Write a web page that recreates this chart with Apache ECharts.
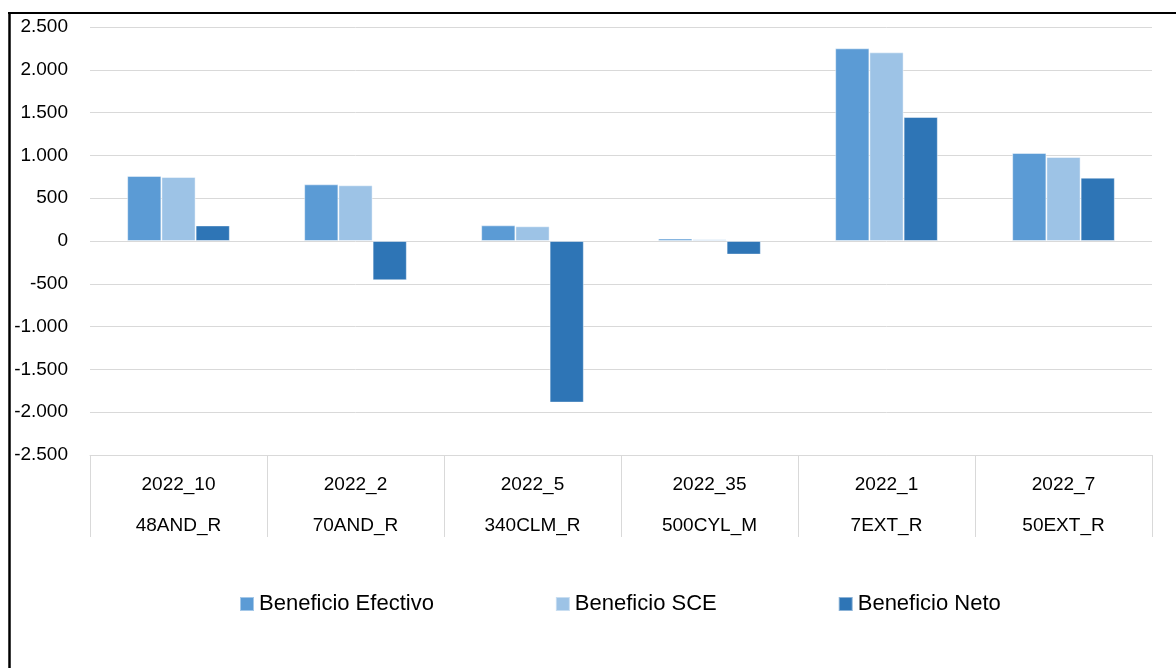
<!DOCTYPE html>
<html>
<head>
<meta charset="utf-8">
<script src="https://cdn.jsdelivr.net/npm/echarts@6/dist/echarts.min.js"></script>
<style>
html,body{margin:0;padding:0;background:#fff;}
#chart{width:1176px;height:668px;}
</style>
</head>
<body>
<div id="chart"></div>
<script>
const periods = ['2022_10','2022_2','2022_5','2022_35','2022_1','2022_7'];
const units = ['48AND_R','70AND_R','340CLM_R','500CYL_M','7EXT_R','50EXT_R'];
const beneficioEfectivo = [760, 662, 183, 28, 2251, 1028];
const beneficioSCE = [748, 651, 172, 20, 2204, 981];
const beneficioNeto = [182, -459, -1888, -159, 1449, 740];
const seriesNames = ['Beneficio Efectivo','Beneficio SCE','Beneficio Neto'];
const yTicks = {min: -2500, max: 2500, interval: 500};

const FONT = '"Liberation Sans", Arial, sans-serif';
const colors = ['#5B9BD5', '#9DC3E6', '#2E75B6'];

function fmt(v){
  const neg = v < 0;
  let s = String(Math.abs(Math.round(v)));
  s = s.replace(/\B(?=(\d{3})+(?!\d))/g, '.');
  return (neg ? '-' : '') + s;
}

const categories = periods.map((p, i) => p + '\n' + units[i]);
const chart = echarts.init(document.getElementById('chart'), null, {renderer: 'canvas'});

const seriesData = [beneficioEfectivo, beneficioSCE, beneficioNeto];

chart.setOption({
  animation: false,
  backgroundColor: '#fff',
  color: colors,
  grid: {left: 90, right: 24, top: 27, bottom: 213, containLabel: false},
  legend: {
    data: seriesNames,
    left: 234,
    top: 588,
    itemWidth: 14,
    itemHeight: 14,
    itemGap: 121,
    icon: 'rect',
    textStyle: {fontFamily: FONT, fontSize: 22, color: '#000', lineHeight: 22}
  },
  xAxis: {
    type: 'category',
    data: categories,
    axisLine: {show: true, onZero: false, lineStyle: {color: '#d9d9d9', width: 1}},
    axisTick: {show: true, interval: 0, length: 82, lineStyle: {color: '#d9d9d9', width: 1}},
    axisLabel: {interval: 0, margin: 9, fontFamily: FONT, fontSize: 19, color: '#000', lineHeight: 41},
    splitLine: {show: false}
  },
  yAxis: {
    type: 'value',
    min: yTicks.min,
    max: yTicks.max,
    interval: yTicks.interval,
    axisLine: {show: false},
    axisTick: {show: false},
    axisLabel: {margin: 22, fontFamily: FONT, fontSize: 19, color: '#000', formatter: fmt},
    splitLine: {show: true, lineStyle: {color: '#d9d9d9', width: 1}}
  },
  series: seriesNames.map((name, i) => ({
    name: name,
    type: 'bar',
    data: seriesData[i],
    barGap: '0%',
    barCategoryGap: '42%',
    itemStyle: {color: colors[i], borderColor: 'rgba(255,255,255,0.45)', borderWidth: 1}
  })),
  graphic: [
    {type: 'line', silent: true, z: 100, shape: {x1: 8, y1: 13, x2: 1176, y2: 13}, style: {stroke: '#000', lineWidth: 2}},
    {type: 'line', silent: true, z: 100, shape: {x1: 9.5, y1: 12, x2: 9.5, y2: 668}, style: {stroke: '#000', lineWidth: 2.5}}
  ]
});
</script>
</body>
</html>
